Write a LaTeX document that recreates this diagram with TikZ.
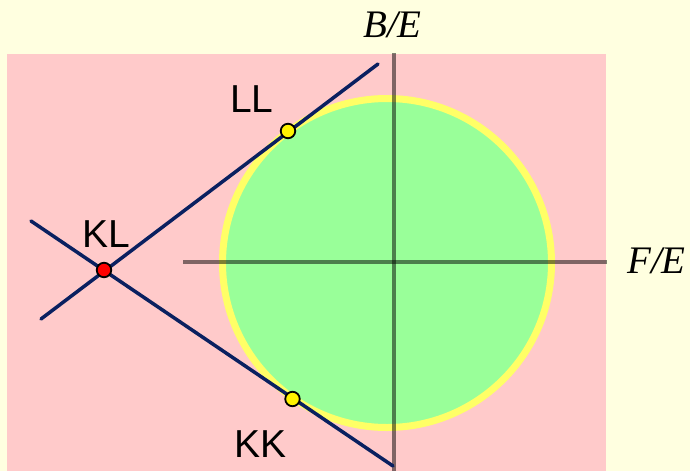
\documentclass[tikz,border=0pt]{standalone}
\usepackage{fontspec}
\newfontfamily\labfont{Liberation Sans}
\newfontfamily\axfont{Liberation Serif}
\definecolor{bgc}{HTML}{FFFFE0}
\definecolor{pinkc}{HTML}{FFCACA}
\definecolor{greenc}{HTML}{99FF99}
\definecolor{ringc}{HTML}{FFFF66}
\definecolor{navyc}{HTML}{0A2060}
\begin{document}
\begin{tikzpicture}[x=1pt,y=-1pt,
  axisline/.style={line width=4pt,draw=black,draw opacity=0.5},
  tangent/.style={line width=3.5pt,draw=navyc,line cap=round},
  dotpt/.style={circle,draw=black,line width=1.8pt,minimum size=14.5pt,inner sep=0pt},
  lab/.style={font=\labfont\fontsize{39}{39}\selectfont,anchor=base,inner sep=0pt},
  axlab/.style={font=\axfont\itshape\fontsize{39}{39}\selectfont,anchor=base,inner sep=0pt}]
\useasboundingbox (0,0) rectangle (690,471);
\fill[bgc] (0,0) rectangle (690,471);
\fill[pinkc] (7,54) rectangle (606,471);
\draw[ringc,fill=greenc,line width=7pt] (387,263) circle[radius=164.5pt];
\draw[axisline] (183,262) -- (607,262);
\draw[axisline] (394,53) -- (394,471);
\coordinate (u1) at (41,319);
\coordinate (u2) at (378,64);
\coordinate (l1) at (31,221);
\coordinate (l2) at (393,466);
\draw[tangent] (u1) -- (u2);
\draw[tangent] (l1) -- (l2);
\node[dotpt,fill=red] (kl) at (104,270) {};
\node[dotpt,fill=yellow] (ll) at (288,131) {};
\node[dotpt,fill=yellow] (kk) at (292.5,399) {};
\node[lab] (tll) at (252,112) {LL};
\node[lab] (tkl) at (106,247) {KL};
\node[lab] (tkk) at (260.5,457) {KK};
\node[axlab] (tfe) at (656.5,273) {F/E};
\node[axlab] (tbe) at (392.5,37) {B/E};
\end{tikzpicture}
\end{document}
